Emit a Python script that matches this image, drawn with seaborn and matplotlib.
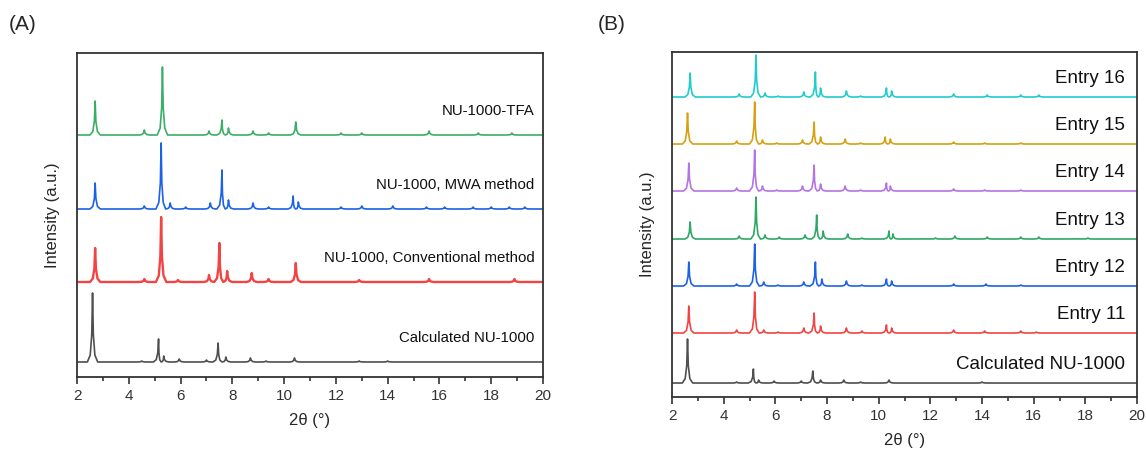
import numpy as np
import pandas as pd
import matplotlib
matplotlib.use("Agg")
import matplotlib.pyplot as plt
import seaborn as sns

# ---- data: peak lists (2theta, height), offsets per trace ----
# panel A (intensity units: arbitrary, stacked)
a_names = ["NU-1000-TFA", "NU-1000, MWA method", "NU-1000, Conventional method", "Calculated NU-1000"]
a_base = [242, 168, 95, 15]
a_peaks = [
    [(2.7, 34), (4.6, 5), (5.3, 68), (7.1, 4), (7.6, 15), (7.85, 7), (8.8, 4), (9.4, 2),
     (10.45, 13), (12.2, 2), (13.0, 2), (15.6, 4), (17.5, 2), (18.8, 2)],
    [(2.7, 26), (4.6, 3), (5.25, 66), (5.6, 6), (6.2, 2), (7.15, 6), (7.6, 39), (7.85, 9),
     (8.8, 6), (9.4, 2), (10.35, 13), (10.55, 7), (12.2, 2), (13.0, 3), (14.2, 3),
     (15.5, 2), (16.2, 2), (17.3, 2), (18.0, 2), (18.7, 2), (19.3, 2)],
    [(2.7, 34), (4.6, 3), (5.25, 65), (5.9, 2), (7.1, 7), (7.5, 39), (7.8, 11), (8.75, 9),
     (9.4, 3), (10.45, 19), (12.9, 2), (15.6, 3), (18.9, 3)],
    [(2.6, 69), (4.5, 1), (5.15, 23), (5.35, 6), (5.95, 3), (7.0, 2), (7.45, 19), (7.75, 5),
     (8.7, 4), (9.3, 1), (10.4, 4), (12.9, 1), (14.0, 1)],
]

# panel B
b_names = ["Entry 16", "Entry 15", "Entry 14", "Entry 13", "Entry 12", "Entry 11", "Calculated NU-1000"]
b_base = [300, 253, 206, 158, 111, 64, 14]
b_peaks = [
    [(2.7, 24), (4.6, 3), (5.25, 42), (5.6, 4), (6.1, 1), (7.1, 5), (7.55, 25), (7.75, 9),
     (8.75, 6), (9.3, 1), (10.3, 9), (10.5, 6), (12.9, 3), (14.2, 2), (15.5, 2), (16.2, 2)],
    [(2.6, 31), (4.5, 3), (5.2, 42), (5.5, 4), (6.05, 1), (7.05, 4), (7.5, 22), (7.75, 7),
     (8.7, 5), (9.3, 1), (10.25, 7), (10.45, 5), (12.9, 2), (14.1, 1), (15.5, 1)],
    [(2.65, 28), (4.5, 3), (5.2, 41), (5.5, 5), (6.05, 1), (7.05, 5), (7.5, 26), (7.75, 7),
     (8.7, 5), (9.3, 1), (10.3, 8), (10.45, 5), (12.9, 2), (14.1, 1), (15.5, 1)],
    [(2.7, 17), (4.6, 3), (5.25, 42), (5.6, 4), (6.15, 2), (7.15, 4), (7.6, 24), (7.85, 8),
     (8.8, 5), (9.35, 1), (10.4, 8), (10.55, 5), (12.2, 1), (12.95, 3), (14.2, 2),
     (15.5, 2), (16.2, 2), (18.1, 1)],
    [(2.65, 24), (4.5, 2), (5.2, 42), (5.55, 4), (6.1, 1), (7.1, 4), (7.55, 24), (7.8, 7),
     (8.75, 5), (9.35, 1), (10.3, 7), (10.5, 5), (12.9, 2), (14.15, 2), (15.5, 1)],
    [(2.65, 27), (4.5, 3), (5.2, 41), (5.55, 3), (6.1, 1), (7.1, 5), (7.5, 20), (7.75, 7),
     (8.75, 5), (9.35, 2), (10.3, 8), (10.5, 5), (12.9, 3), (14.1, 2), (15.5, 2), (16.1, 1)],
    [(2.6, 44), (4.5, 1), (5.15, 14), (5.35, 3), (5.95, 2), (7.0, 2), (7.45, 12), (7.75, 3),
     (8.65, 3), (9.3, 1), (10.4, 3), (14.0, 1)],
]

a_colors = ["#3aae66", "#1c62e6", "#f24444", "#4f4f4f"]
b_colors = ["#22cccc", "#d6a012", "#b574e4", "#2fa866", "#1c62e6", "#f24444", "#4f4f4f"]


def trace(peaks, base, hw=0.2):
    # join the read peak tops and the baseline as a polyline; each peak drawn as a
    # narrow spike with a short foot, clipped where neighbouring peaks meet
    pk = sorted(peaks)
    xs, ys = [2.0], [base]
    for i, (p, h) in enumerate(pk):
        left = p - hw
        right = p + hw
        if i > 0:
            left = max(left, (pk[i - 1][0] + p) / 2)
        if i < len(pk) - 1:
            right = min(right, (pk[i + 1][0] + p) / 2)
        lw_, rw_ = p - left, right - p
        xs += [left, p - 0.45 * lw_, p - 0.15 * lw_, p, p + 0.15 * rw_, p + 0.45 * rw_, right]
        ys += [base, base + 0.1 * h, base + 0.4 * h, base + h, base + 0.4 * h,
               base + 0.1 * h, base]
    xs.append(20.0)
    ys.append(base)
    return pd.DataFrame({"x": xs, "y": ys})


sns.set_style("ticks")
plt.rcParams["font.family"] = ["Liberation Sans", "DejaVu Sans"]
plt.rcParams["axes.edgecolor"] = "#333333"
plt.rcParams["xtick.color"] = "#333333"

fig = plt.figure(figsize=(11.46, 4.53), dpi=100)
axA = fig.add_axes([0.0672, 0.1678, 0.4066, 0.7152])
axB = fig.add_axes([0.5864, 0.1236, 0.4058, 0.7616])


def draw(ax, names, bases, peaks, colors, ylim, label_x, label_dy, fs, widths):
    for name, b, pk, c, w in zip(names, bases, peaks, colors, widths):
        df = trace(pk, b)
        sns.lineplot(data=df, x="x", y="y", sort=False, color=c, lw=w, ax=ax,
                     estimator=None)
        ax.text(label_x, b + label_dy, name, ha="right", va="center", fontsize=fs,
                color="#111111")
    ax.set_xlim(2, 20)
    ax.set_ylim(*ylim)
    ax.set_xticks(np.arange(2, 21, 2))
    ax.set_xticks(np.arange(3, 20, 2), minor=True)
    ax.set_yticks([])
    ax.tick_params(axis="x", which="major", length=5, width=1.2, labelsize=11, direction="out")
    ax.tick_params(axis="x", which="minor", length=3, width=1.2, direction="out")
    for s in ax.spines.values():
        s.set_linewidth(1.3)
    ax.set_xlabel("2θ (°)", fontsize=12, labelpad=7)
    ax.set_ylabel("Intensity (a.u.)", fontsize=12, labelpad=12)


draw(axA, a_names, a_base, a_peaks, a_colors, (0, 324), 19.68, 24, 10.8,
     [1.2, 1.2, 1.7, 1.2])
draw(axB, b_names, b_base, b_peaks, b_colors, (0, 345), 19.54, 19, 13.5,
     [1.2] * 7)

fig.text(0.008, 0.945, "(A)", fontsize=15, va="center")
fig.text(0.522, 0.945, "(B)", fontsize=15, va="center")

fig.savefig("out.png", dpi=100)
